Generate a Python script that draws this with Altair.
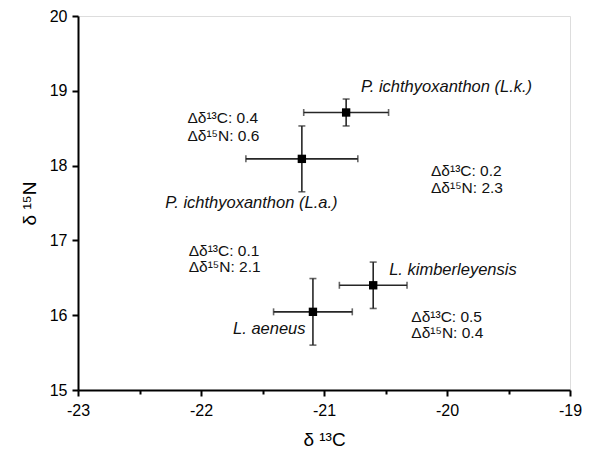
import altair as alt
import pandas as pd

species = ["P. ichthyoxanthon (L.k.)", "P. ichthyoxanthon (L.a.)", "L. kimberleyensis", "L. aeneus"]
c13 = [-20.82, -21.18, -20.60, -21.09]
c13_sd = [0.345, 0.455, 0.275, 0.32]
n15 = [18.71, 18.09, 16.40, 16.045]
n15_sd = [0.18, 0.44, 0.31, 0.445]

label_x = [-20.70, -22.29, -20.47, -21.15]
label_y = [19.05, 17.50, 16.61, 15.82]
label_align = ["left", "left", "left", "right"]

ann_text = ["Δδ¹³C: 0.4", "Δδ¹⁵N: 0.6", "Δδ¹³C: 0.2", "Δδ¹⁵N: 2.3",
            "Δδ¹³C: 0.1", "Δδ¹⁵N: 2.1", "Δδ¹³C: 0.5", "Δδ¹⁵N: 0.4"]
ann_x = [-22.11, -22.11, -20.13, -20.13, -22.10, -22.10, -20.29, -20.29]
ann_y = [18.63, 18.40, 17.93, 17.70, 16.86, 16.65, 15.98, 15.76]

x_ticks = [-23, -22.5, -22, -21.5, -21, -20.5, -20, -19.5, -19]
y_ticks = [15, 15.5, 16, 16.5, 17, 17.5, 18, 18.5, 19, 19.5, 20]

df = pd.DataFrame({
    "sp": species, "c": c13, "n": n15,
    "clo": [a - b for a, b in zip(c13, c13_sd)],
    "chi": [a + b for a, b in zip(c13, c13_sd)],
    "nlo": [a - b for a, b in zip(n15, n15_sd)],
    "nhi": [a + b for a, b in zip(n15, n15_sd)],
})
caps_x = pd.DataFrame({"cx": df["clo"].tolist() + df["chi"].tolist(), "n": df["n"].tolist() * 2})
caps_y = pd.DataFrame({"c": df["c"].tolist() * 2, "ny": df["nlo"].tolist() + df["nhi"].tolist()})
labels = pd.DataFrame({"t": species, "x": label_x, "y": label_y, "a": label_align})
ann = pd.DataFrame({"t": ann_text, "x": ann_x, "y": ann_y})

FONT = "Liberation Sans"
major = "datum.value % 1 === 0"

xscale = alt.Scale(domain=[-23, -19], nice=False, zero=False)
yscale = alt.Scale(domain=[15, 20], nice=False, zero=False)

common = dict(
    labelExpr=f"{major} ? '' + datum.value : ''",
    tickSize={"condition": {"test": major, "value": 6}, "value": 4},
    grid=False, domainColor="black", domainWidth=2, tickColor="black", tickWidth=2,
    labelColor="black", labelFontSize=16, labelFont=FONT,
    titleFont=FONT, titleFontSize=19, titleFontWeight="normal", titleColor="black",
    labelFlush=False, labelOverlap=False,
)
xaxis = alt.Axis(values=x_ticks, title="δ ¹³C", labelPadding=6, titlePadding=12, **common)
yaxis = alt.Axis(values=y_ticks, title="δ ¹⁵N", labelPadding=5, titlePadding=10, **common)

ERR = "#262626"

hbar = alt.Chart(df).mark_rule(color=ERR, strokeWidth=1.6).encode(
    x=alt.X("clo:Q", scale=xscale, axis=xaxis), x2="chi:Q",
    y=alt.Y("n:Q", scale=yscale, axis=yaxis),
)
vbar = alt.Chart(df).mark_rule(color=ERR, strokeWidth=1.6).encode(
    x=alt.X("c:Q", scale=xscale), y=alt.Y("nlo:Q", scale=yscale), y2="nhi:Q",
)
hcap = alt.Chart(caps_x).mark_tick(color=ERR, orient="vertical", size=7, thickness=1.6).encode(
    x=alt.X("cx:Q", scale=xscale), y=alt.Y("n:Q", scale=yscale),
)
vcap = alt.Chart(caps_y).mark_tick(color=ERR, orient="horizontal", size=7, thickness=1.6).encode(
    x=alt.X("c:Q", scale=xscale), y=alt.Y("ny:Q", scale=yscale),
)
pts = alt.Chart(df).mark_square(color="black", opacity=1, size=70).encode(
    x=alt.X("c:Q", scale=xscale), y=alt.Y("n:Q", scale=yscale),
)
lab_left = alt.Chart(labels).transform_filter("datum.a === 'left'").mark_text(
    align="left", baseline="middle", font=FONT, fontSize=16.5, fontStyle="italic", color="#111"
).encode(x=alt.X("x:Q", scale=xscale), y=alt.Y("y:Q", scale=yscale), text="t:N")
lab_right = alt.Chart(labels).transform_filter("datum.a === 'right'").mark_text(
    align="right", baseline="middle", font=FONT, fontSize=16.5, fontStyle="italic", color="#111"
).encode(x=alt.X("x:Q", scale=xscale), y=alt.Y("y:Q", scale=yscale), text="t:N")
anns = alt.Chart(ann).mark_text(
    align="left", baseline="middle", font=FONT, fontSize=15.5, color="#111"
).encode(x=alt.X("x:Q", scale=xscale), y=alt.Y("y:Q", scale=yscale), text="t:N")

chart = alt.layer(hbar, vbar, hcap, vcap, pts, lab_left, lab_right, anns).properties(
    width=492, height=374,
    autosize=alt.AutoSizeParams(type="none"),
    padding={"left": 70, "top": 8, "right": 12, "bottom": 62},
).configure_view(stroke=None).configure(background="white")

chart.save("out.html", embed_options={"renderer": "svg", "actions": False})
